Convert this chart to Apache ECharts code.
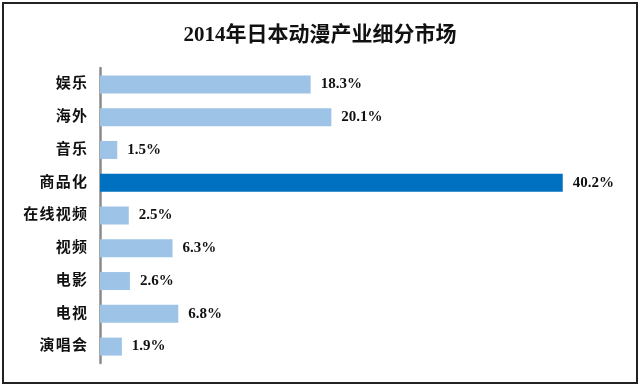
<!DOCTYPE html>
<html><head><meta charset="utf-8">
<script src="https://cdn.jsdelivr.net/npm/echarts@6/dist/echarts.min.js"></script>
<style>html,body{margin:0;padding:0;background:#fff}#c{width:640px;height:385px;position:relative}
#frame{position:absolute;left:2px;top:2px;width:632px;height:378px;border:2px solid #222;box-sizing:content-box;pointer-events:none}</style>
</head><body><div id="c"></div><div id="frame"></div>
<script>
const categories = ['娱乐','海外','音乐','商品化','在线视频','视频','电影','电视','演唱会'];
const values = [18.3, 20.1, 1.5, 40.2, 2.5, 6.3, 2.6, 6.8, 1.9];
const highlight = '商品化';
const titleText = '2014年日本动漫产业细分市场';

const chart = echarts.init(document.getElementById('c'));
const fontFam = '"Liberation Serif","Noto Sans CJK SC",serif';
chart.setOption({
  animation:false,
  title:{text:titleText,left:'center',top:20,textStyle:{fontFamily:fontFam,fontSize:21,fontWeight:'bold',color:'#111'}},
  grid:{left:100,top:68,width:518,height:295},
  xAxis:{type:'value',min:0,max:45,show:false},
  yAxis:{type:'category',data:categories,inverse:true,
    axisLine:{lineStyle:{color:'#8a8a8a',width:2.5}},axisTick:{show:false},
    axisLabel:{margin:13,fontFamily:fontFam,fontSize:15,fontWeight:'bold',color:'#111',
      formatter:v=>v.split('').join('\u200A')}},
  series:[{type:'bar',barWidth:18,
    data:values.map((v,i)=>({value:v,itemStyle:{color:categories[i]===highlight?'#0070C0':'#9DC3E6'}})),
    label:{show:true,position:'right',distance:10,formatter:p=>p.value.toFixed(1)+'%',
      fontFamily:fontFam,fontSize:15,fontWeight:'bold',color:'#111'}}]
});
</script></body></html>
